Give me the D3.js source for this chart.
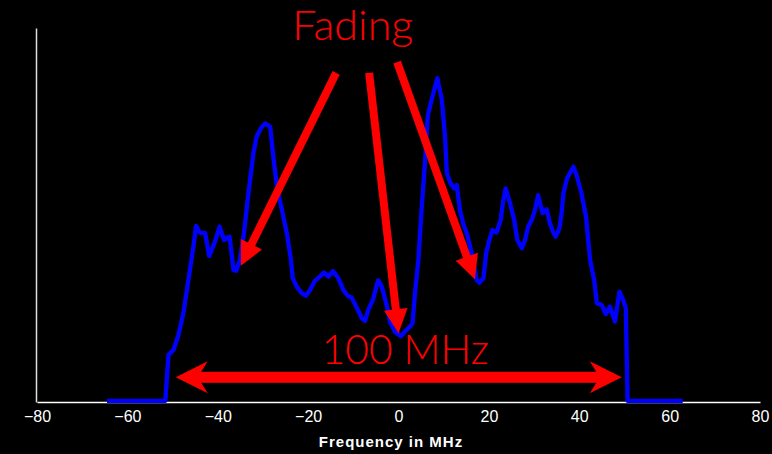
<!DOCTYPE html>
<html>
<head>
<meta charset="utf-8">
<script src="https://cdn.jsdelivr.net/npm/d3@7"></script>
<style>
  html, body { margin: 0; padding: 0; background: #000; }
  svg { display: block; }
</style>
</head>
<body>
<svg id="chart" width="772" height="454"></svg>
<script>
// ---- data ----
const freqMHz = [-64.5,-51.6,-50.9,-49.8,-48.7,-47.6,-46.5,-45.4,-44.8,-43.9,-42.8,-41.9,-40.6,-39.6,-38.6,-37.4,-36.5,-35.9,-35.1,-34.2,-33.2,-32.1,-31.4,-30.4,-29.5,-28.4,-27.7,-26.9,-25.8,-24.7,-23.8,-23.4,-22.5,-21.4,-20.5,-19.6,-18.5,-17.4,-16.5,-15.5,-14.5,-13.4,-12.2,-11.1,-10.4,-9.2,-8.1,-7.4,-6.7,-5.6,-4.5,-3.7,-2.6,-1.9,-0.8,0.55,1.4,2.5,3.1,3.65,4.4,5.1,5.9,6.5,7.3,8.6,9.6,10.3,10.7,11.5,12.3,12.9,13.6,14.3,15.1,16.4,17.3,17.9,18.8,19.4,20.1,20.8,21.7,22.6,23.2,23.7,24.7,25.6,26.3,27.3,28.0,28.7,29.5,30.2,30.9,31.9,32.8,33.5,34.2,34.8,35.6,36.1,36.5,37.3,38.7,39.4,40.5,41.5,42.4,43.3,43.9,45.0,45.9,46.8,47.9,48.9,49.7,50.3,50.7,62.9];
const level = [0.3,0.3,12.6,13.9,17.9,23.8,32.6,41.4,47.1,45.2,45.2,39.0,42.9,46.9,43.3,44.2,35.3,35.1,38.0,45.2,55.9,66.6,70.9,73.3,74.5,73.6,65.6,57.6,51.3,45.1,38.0,33.1,30.8,29.1,28.4,29.9,32.4,33.5,34.6,33.5,35.0,33.3,29.9,28.2,28.0,25.1,22.4,21.7,24.6,27.5,32.6,30.8,25.9,21.5,18.8,17.6,18.8,20.1,21.0,29.1,38.0,51.3,64.7,76.7,80.7,86.6,80.7,70.9,61.2,58.5,57.1,58.0,51.3,47.8,45.1,38.9,32.6,31.9,33.1,39.8,43.3,46.0,45.3,48.7,54.0,57.1,53.1,48.7,43.3,41.1,43.3,46.9,48.7,51.3,55.3,50.5,51.5,47.8,45.5,44.2,46.4,50.5,55.8,59.8,62.9,60.7,55.8,49.5,38.0,32.6,26.4,25.9,23.5,25.5,21.5,29.5,27.3,25.1,0.3,0.3];
const xTicks = [-80,-60,-40,-20,0,20,40,60,80];
const xDomain = [-80, 80];
const yDomain = [0, 100];
const xTitle = "Frequency in MHz";

// annotations (data coordinates)
const fadingLabel = { text: "Fading", f: -10.1, v: 96.8 };
const fadingFrom = [[-13.8, 88.0], [-6.5, 88.0], [-0.3, 90.9]];
const fadingTo   = [[-34.9, 36.4], [0.0, 18.4], [16.9, 32.8]];
const bwLabel = { text: "100 MHz", f: 1.5, v: 10.1 };
const bwArrow = { f0: -49.3, f1: 49.4, v: 6.6 };

// ---- chart ----
const svg = d3.select("#chart");
const x = d3.scaleLinear().domain(xDomain).range([37, 760]);
const y = d3.scaleLinear().domain(yDomain).range([402, 28]);
const red = "#ff0000";

// x axis
const xAxis = d3.axisBottom(x).tickValues(xTicks).tickSize(0).tickSizeOuter(0).tickPadding(9)
  .tickFormat(d => d < 0 ? "\u2212" + Math.abs(d) : String(d));
const gx = svg.append("g").attr("transform", "translate(0,402)").call(xAxis);
gx.select(".domain").attr("stroke", "#fff").attr("stroke-width", 1.5);
gx.selectAll("text").attr("fill", "#fff")
  .style("font-family", "'Liberation Sans Narrow', 'Arial Narrow', 'Liberation Sans', Arial, sans-serif")
  .style("font-size", "16px");

// y axis (line only)
const yAxis = d3.axisLeft(y).tickValues([]).tickSizeOuter(0);
const gy = svg.append("g").attr("transform", "translate(36,0)").call(yAxis);
gy.select(".domain").attr("stroke", "#ddd").attr("stroke-width", 1.5);

// x title
svg.append("text")
  .attr("x", 391).attr("y", 447)
  .attr("text-anchor", "middle")
  .attr("fill", "#fff")
  .style("font-family", "'Liberation Sans', Arial, sans-serif")
  .style("font-weight", "bold")
  .style("font-size", "15px")
  .style("letter-spacing", "1px")
  .text(xTitle);

// spectrum line
const pts = freqMHz.map((f, i) => [f, level[i]]);
svg.append("path")
  .datum(pts)
  .attr("fill", "none")
  .attr("stroke", "#0000ff")
  .attr("stroke-width", 4.3)
  .attr("stroke-linejoin", "round")
  .attr("d", d3.line().x(d => x(d[0])).y(d => y(d[1])));

// fading arrows
const headLen = 24, headHalf = 11.8, shaftW = 8;
fadingFrom.forEach((a, i) => {
  const b = fadingTo[i];
  const x0 = x(a[0]), y0 = y(a[1]), x1 = x(b[0]), y1 = y(b[1]);
  const dx = x1 - x0, dy = y1 - y0, L = Math.hypot(dx, dy);
  const ux = dx / L, uy = dy / L, px = -uy, py = ux;
  const bx = x1 - ux * headLen, by = y1 - uy * headLen;
  svg.append("line")
    .attr("x1", x0).attr("y1", y0).attr("x2", bx + ux * 2).attr("y2", by + uy * 2)
    .attr("stroke", red).attr("stroke-width", shaftW);
  svg.append("polygon")
    .attr("points", [[x1, y1], [bx + px * headHalf, by + py * headHalf], [bx - px * headHalf, by - py * headHalf]].map(p => p.join(",")).join(" "))
    .attr("fill", red);
});

// bandwidth double arrow
{
  const xl = x(bwArrow.f0), xr = x(bwArrow.f1), yc = y(bwArrow.v);
  const hl = 32, notch = 22, hh = 16, sw = 11;
  svg.append("rect")
    .attr("x", xl + notch - 1).attr("y", yc - sw / 2)
    .attr("width", (xr - notch) - (xl + notch) + 2).attr("height", sw)
    .attr("fill", red);
  svg.append("polygon")
    .attr("points", [[xl, yc], [xl + hl, yc - hh], [xl + notch, yc], [xl + hl, yc + hh]].map(p => p.join(",")).join(" "))
    .attr("fill", red);
  svg.append("polygon")
    .attr("points", [[xr, yc], [xr - hl, yc - hh], [xr - notch, yc], [xr - hl, yc + hh]].map(p => p.join(",")).join(" "))
    .attr("fill", red);
}

// labels
function bigLabel(lbl, width) {
  svg.append("text")
    .attr("x", x(lbl.f)).attr("y", y(lbl.v))
    .attr("text-anchor", "middle")
    .attr("fill", red)
    .attr("textLength", width)
    .attr("lengthAdjust", "spacingAndGlyphs")
    .style("font-family", "Lato, 'Open Sans', sans-serif")
    .style("font-weight", "300")
    .style("font-size", "42px")
    .text(lbl.text);
}
bigLabel(fadingLabel, 121);
bigLabel(bwLabel, 167);
</script>
</body>
</html>
